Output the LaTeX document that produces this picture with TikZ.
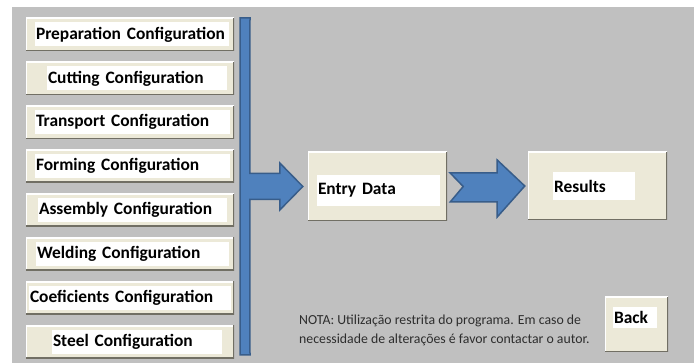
\documentclass[tikz,border=0pt]{standalone}
\usepackage{fontspec}
\setmainfont{Carlito}
\usetikzlibrary{calc,positioning}
\definecolor{panelgray}{RGB}{192,192,192}
\definecolor{btnbeige}{RGB}{236,233,216}
\definecolor{btnshade}{RGB}{113,111,100}
\definecolor{flowblue}{RGB}{79,129,189}
\definecolor{flowedge}{RGB}{56,93,138}
\definecolor{notegray}{RGB}{45,45,45}
\tikzset{
  btn/.style={fill=btnbeige,inner sep=0pt,
    path picture={
      \draw[white,line width=2.5pt] (path picture bounding box.south west)
        |- (path picture bounding box.north east);
      \draw[btnshade,line width=2.5pt] (path picture bounding box.south west)
        -| (path picture bounding box.north east);}},
  cfgbtn/.style={btn,minimum width=208pt,minimum height=33pt},
  btnlab/.style={fill=white,inner xsep=1pt,inner ysep=0pt,
    minimum height=24pt,anchor=west,align=left,
    font=\bfseries\fontsize{17.4}{20}\selectfont},
  flowarrow/.style={fill=flowblue,draw=flowedge,line width=1.5pt,line join=miter},
  note/.style={font=\fontsize{13.8}{19}\selectfont,text=notegray,
    align=left,anchor=west,inner sep=0pt}
}

\begin{document}
\begin{tikzpicture}[x=1pt,y=1pt,node distance=10.5pt]
  \useasboundingbox[fill=white] (0,0) rectangle (699,-363);
  \fill[panelgray] (12,-7) rectangle (694,-363);

  % configuration buttons
  \node[cfgbtn] (prep) at (130,-34.5) {};
  \node[cfgbtn,below=of prep] (cut) {};
  \node[cfgbtn,below=of cut] (trans) {};
  \node[cfgbtn,below=of trans] (form) {};
  \node[cfgbtn,below=of form] (asm) {};
  \node[cfgbtn,below=of asm] (weld) {};
  \node[cfgbtn,below=of weld] (coef) {};
  \node[cfgbtn,below=of coef] (steel) {};
  \foreach \btn/\dx/\w/\txt in {
      prep/9/192/Preparation Configuration,
      cut/21/178/Cutting Configuration,
      trans/9/193/Transport Configuration,
      form/9/193/Forming Configuration,
      asm/12/187/Assembly Configuration,
      weld/10/191/Welding Configuration,
      coef/3/200/Coeficients Configuration,
      steel/26/168/Steel Configuration}
    \node[btnlab,text width=\w pt,right=\dx pt of \btn.west] {\txt};

  % entry data and results
  \node[btn,minimum width=139pt,minimum height=69pt] (entry) at (377.5,-186.5) {};
  \node[btnlab,text width=121pt,minimum height=31pt,right=9pt of entry.west,
    yshift=-4pt] {Entry Data};
  \node[btn,minimum width=139pt,minimum height=68pt] (res) at (597.5,-186) {};
  \node[btnlab,text width=80pt,minimum height=28pt,right=25pt of res.west] {Results};
  \node[btn,minimum width=63pt,minimum height=55pt] (back) at (636.5,-324.5) {};
  \node[btnlab,text width=42pt,minimum height=21pt,right=8pt of back.west,
    yshift=7pt] {Back};

  % collecting bus into entry data
  \coordinate (bustop) at (245,-18);
  \coordinate (busbot) at (245,-355);
  \draw[flowarrow]
    ($(bustop)+(-5,0)$) -- ($(bustop)+(5,0)$)
    -- ($(entry.west)+(-58,13)$) -- ($(entry.west)+(-28,13)$)
    -- ($(entry.west)+(-28,23.5)$) -- ($(entry.west)+(-5,0)$)
    -- ($(entry.west)+(-28,-23.5)$) -- ($(entry.west)+(-28,-13)$)
    -- ($(entry.west)+(-58,-13)$) -- ($(busbot)+(5,0)$)
    -- ($(busbot)+(-5,0)$) -- cycle;

  % notched arrow to results
  \draw[flowarrow]
    ($(entry.east)+(3,13.5)$) -- ($(entry.east)+(50,13.5)$)
    -- ($(entry.east)+(50,26.5)$) -- ($(res.west)+(-3,0)$)
    -- ($(entry.east)+(50,-30.5)$) -- ($(entry.east)+(50,-15.5)$)
    -- ($(entry.east)+(3,-15.5)$) -- ($(entry.east)+(16,0)$) -- cycle;

  \node[note] (nota) at (299,-330.5)
    {NOTA: Utilização restrita do programa. Em caso de\\
     necessidade de alterações é favor contactar o autor.};
\end{tikzpicture}
\end{document}
